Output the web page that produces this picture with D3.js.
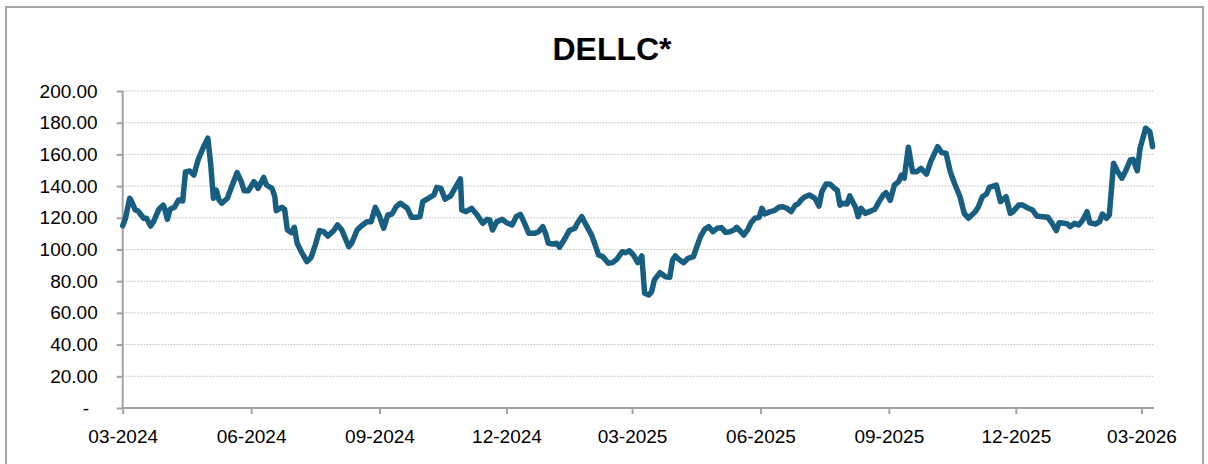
<!DOCTYPE html>
<html>
<head>
<meta charset="utf-8">
<script src="https://cdn.jsdelivr.net/npm/d3@7"></script>
<style>
  html, body { margin: 0; padding: 0; background: #fff; }
  svg { display: block; font-family: "Liberation Sans", Arial, sans-serif; }
</style>
</head>
<body>
<svg id="chart" width="1208" height="464"></svg>
<script>
// DELLC* price history
const title = "DELLC*";

const dates = [
  "2024-03-01","2024-03-03","2024-03-06","2024-03-07","2024-03-10","2024-03-12","2024-03-16","2024-03-18",
  "2024-03-21","2024-03-23","2024-03-27","2024-03-30","2024-03-31","2024-04-02","2024-04-04","2024-04-07",
  "2024-04-10","2024-04-13","2024-04-15","2024-04-18","2024-04-21","2024-04-24","2024-04-28","2024-05-01",
  "2024-05-03","2024-05-05","2024-05-07","2024-05-09","2024-05-11","2024-05-15","2024-05-19","2024-05-22",
  "2024-05-25","2024-05-27","2024-05-30","2024-06-03","2024-06-04","2024-06-06","2024-06-10","2024-06-12",
  "2024-06-16","2024-06-18","2024-06-19","2024-06-23","2024-06-25","2024-06-27","2024-06-30","2024-07-02",
  "2024-07-04","2024-07-07","2024-07-11","2024-07-14","2024-07-17","2024-07-20","2024-07-23","2024-07-26",
  "2024-07-30","2024-08-02","2024-08-05","2024-08-07","2024-08-10","2024-08-12","2024-08-16","2024-08-19",
  "2024-08-23","2024-08-26","2024-08-29","2024-09-01","2024-09-04","2024-09-07","2024-09-10","2024-09-13",
  "2024-09-16","2024-09-21","2024-09-24","2024-09-28","2024-09-30","2024-10-02","2024-10-06","2024-10-10",
  "2024-10-12","2024-10-15","2024-10-18","2024-10-22","2024-10-25","2024-10-29","2024-10-30","2024-11-02",
  "2024-11-06","2024-11-10","2024-11-14","2024-11-17","2024-11-19","2024-11-21","2024-11-24","2024-11-28",
  "2024-12-01","2024-12-05","2024-12-08","2024-12-11","2024-12-14","2024-12-17","2024-12-21","2024-12-24",
  "2024-12-27","2024-12-29","2024-12-31","2025-01-03","2025-01-06","2025-01-08","2025-01-12","2025-01-15",
  "2025-01-19","2025-01-21","2025-01-24","2025-01-27","2025-01-31","2025-02-02","2025-02-05","2025-02-08",
  "2025-02-12","2025-02-15","2025-02-18","2025-02-22","2025-02-24","2025-02-27","2025-03-02","2025-03-05",
  "2025-03-08","2025-03-10","2025-03-13","2025-03-15","2025-03-17","2025-03-21","2025-03-25","2025-03-28",
  "2025-03-30","2025-04-01","2025-04-04","2025-04-07","2025-04-10","2025-04-14","2025-04-16","2025-04-19",
  "2025-04-22","2025-04-25","2025-04-28","2025-05-01","2025-05-04","2025-05-07","2025-05-10","2025-05-13",
  "2025-05-15","2025-05-18","2025-05-20","2025-05-23","2025-05-25","2025-05-28","2025-05-31","2025-06-02",
  "2025-06-04","2025-06-08","2025-06-11","2025-06-14","2025-06-17","2025-06-20","2025-06-23","2025-06-26",
  "2025-06-28","2025-06-30","2025-07-03","2025-07-06","2025-07-10","2025-07-13","2025-07-15","2025-07-18",
  "2025-07-21","2025-07-24","2025-07-26","2025-07-28","2025-07-30","2025-08-02","2025-08-04","2025-08-06",
  "2025-08-08","2025-08-10","2025-08-12","2025-08-15","2025-08-18","2025-08-22","2025-08-25","2025-08-28",
  "2025-08-30","2025-09-02","2025-09-05","2025-09-08","2025-09-10","2025-09-12","2025-09-15","2025-09-18",
  "2025-09-21","2025-09-24","2025-09-28","2025-10-01","2025-10-06","2025-10-09","2025-10-12","2025-10-15",
  "2025-10-18","2025-10-22","2025-10-25","2025-10-28","2025-11-02","2025-11-04","2025-11-07","2025-11-10",
  "2025-11-12","2025-11-17","2025-11-20","2025-11-24","2025-11-27","2025-11-29","2025-12-03","2025-12-06",
  "2025-12-10","2025-12-13","2025-12-16","2025-12-20","2025-12-24","2025-12-27","2025-12-30","2026-01-01",
  "2026-01-05","2026-01-07","2026-01-09","2026-01-12","2026-01-15","2026-01-18","2026-01-21","2026-01-23",
  "2026-01-27","2026-01-30","2026-02-01","2026-02-04","2026-02-06","2026-02-09","2026-02-12","2026-02-15",
  "2026-02-18","2026-02-21","2026-02-23","2026-02-26","2026-02-28","2026-03-04","2026-03-07","2026-03-09"
];

const prices = [
  115, 119.7, 132.3, 131, 125, 124.3, 119.7, 119.7,
  114.8, 117.5, 125.4, 128, 126, 119, 125.4, 126.6,
  131.2, 130.6, 149, 149.5, 147, 156.5, 164.9, 170.2,
  154.4, 132.3, 137.5, 131.2, 129.2, 132.3, 141.8, 148.5,
  142.8, 137.1, 137.1, 142.8, 141.8, 138.6, 145.5, 140.7,
  138.6, 133.3, 124.5, 126.6, 125.4, 112.3, 110.6, 114,
  103.9, 98.6, 92.3, 95.1, 102.8, 111.9, 111.2, 108.5,
  111.7, 115.5, 112.3, 108.1, 101.8, 103.9, 112.3, 114.8,
  117.5, 117.5, 126.6, 121, 113.4, 121.8, 122.4, 127,
  129.2, 126, 120.3, 120.3, 120.7, 130.2, 132.3, 134.4,
  139.2, 138.6, 131.7, 133.8, 138.6, 144.5, 124.9, 123.9,
  126, 121.8, 116.5, 119, 118.6, 112.3, 117.5, 119,
  116.9, 115.5, 120.7, 122.2, 116.5, 110.2, 110.2, 111.2,
  114.4, 110.2, 103.9, 103.5, 103.9, 101.4, 107.1, 111.9,
  113.4, 116.9, 120.7, 115.5, 109.1, 104.3, 96.5, 95.5,
  91.3, 91.7, 93.8, 98.6, 98, 99.2, 96.5, 91.8,
  95.9, 72.4, 71.3, 73.4, 80.8, 85.4, 82.8, 82.5,
  93.4, 95.9, 93.4, 91.7, 94.4, 95.5, 100.8, 108.1,
  112.7, 114.4, 111.2, 113.4, 113.8, 110.8, 111.2, 112.3,
  114, 111.2, 109.1, 112.7, 116.5, 119.7, 120.3, 126,
  122.4, 123.9, 124.5, 126.6, 127, 126, 123.9, 128,
  128.7, 131.2, 133.3, 134.4, 132.3, 127.4, 136.5, 141.3,
  141.1, 138.6, 137.5, 128, 129.2, 128.7, 133.8, 130.2,
  127, 120.7, 126, 122.8, 123.9, 125.4, 130.2, 134.4,
  135.8, 131, 140.7, 142.8, 147, 145, 164.5, 149.1,
  149.1, 151.2, 147.6, 155.4, 164.9, 161, 160.7, 149.1,
  141.8, 133.3, 122.8, 119.7, 123.9, 126.6, 133.3, 135,
  139.2, 140.7, 130.2, 133.3, 122.8, 123.9, 128, 128,
  126, 124.9, 121.1, 120.7, 120.3, 116.5, 111.9, 116.9,
  116.5, 116.1, 114.4, 116.5, 115.5, 118.6, 123.9, 116.9,
  116.1, 117.5, 122.4, 119.7, 121.8, 154.4, 149.1, 145,
  150.2, 156.5, 156.9, 149.7, 163.8, 176.5, 174.4, 164.9
];

const yTicks = [0, 20, 40, 60, 80, 100, 120, 140, 160, 180, 200];
const xTickLabels = ["03-2024", "06-2024", "09-2024", "12-2024", "03-2025",
                     "06-2025", "09-2025", "12-2025", "03-2026"];

const parseDate = d3.utcParse("%Y-%m-%d");
const parseTick = d3.utcParse("%m-%Y");
const series = dates.map((d, i) => ({ date: parseDate(d), value: prices[i] }));

const svg = d3.select("#chart");
const axisColor = "#a3a3a3";
const lineColor = "#175e80";

// outer frame
svg.append("rect")
    .attr("x", 6).attr("y", 7)
    .attr("width", 1197).attr("height", 470)
    .attr("fill", "none")
    .attr("stroke", "#a6a6a6")
    .attr("stroke-width", 2);

// title
svg.append("text")
    .attr("x", 612).attr("y", 60)
    .attr("text-anchor", "middle")
    .attr("font-size", 32)
    .attr("font-weight", "bold")
    .attr("fill", "#000")
    .text(title);

let x = d3.scaleUtc()
    .domain([parseDate("2024-03-01"), parseDate("2026-03-10")])
    .range([122.7, 1154]);

let y = d3.scaleLinear()
    .domain([0, 200])
    .range([408, 91]);

// dotted gridlines
svg.append("g")
    .attr("class", "grid")
    .selectAll("line")
    .data(yTicks.filter(d => d > 0))
    .enter().append("line")
    .attr("x1", x.range()[0]).attr("x2", x.range()[1])
    .attr("y1", d => y(d)).attr("y2", d => y(d))
    .attr("stroke", "#bdbdbd")
    .attr("stroke-width", 1)
    .attr("stroke-dasharray", "1.5,1.5");

// y axis
let yAxis = svg.append("g")
    .attr("transform", `translate(${x.range()[0]},0)`)
    .call(d3.axisLeft(y)
        .tickValues(yTicks)
        .tickSize(6)
        .tickPadding(19)
        .tickFormat(d => d === 0 ? "-" : d.toFixed(2)));

yAxis.selectAll("text")
    .attr("font-size", 19)
    .attr("font-family", "'Liberation Sans', Arial, sans-serif")
    .attr("fill", "#000");
// accounting format leaves a gap after the dash
yAxis.selectAll(".tick").filter(d => d === 0).select("text").attr("dx", -8.5);

// x axis
let xAxis = svg.append("g")
    .attr("transform", `translate(0,${y(0)})`)
    .call(d3.axisBottom(x)
        .tickValues(xTickLabels.map(parseTick))
        .tickSize(6)
        .tickPadding(16)
        .tickFormat(d3.utcFormat("%m-%Y")));

xAxis.selectAll("text")
    .attr("font-size", 19)
    .attr("font-family", "'Liberation Sans', Arial, sans-serif")
    .attr("fill", "#000");

[yAxis, xAxis].forEach(g => {
    g.select(".domain").attr("stroke", axisColor).attr("stroke-width", 2);
    g.selectAll(".tick line").attr("stroke", axisColor).attr("stroke-width", 2);
});
yAxis.select(".domain").attr("d", `M0,${y(200)}V${y(0)}`);
xAxis.select(".domain").attr("d", `M${x.range()[0]},0H${x.range()[1]}`);

// price line
let line = d3.line()
    .x(d => x(d.date))
    .y(d => y(d.value));

svg.append("path")
    .datum(series)
    .attr("d", line)
    .attr("fill", "none")
    .attr("stroke", lineColor)
    .attr("stroke-width", 5.5)
    .attr("stroke-linejoin", "round")
    .attr("stroke-linecap", "round");
</script>
</body>
</html>
